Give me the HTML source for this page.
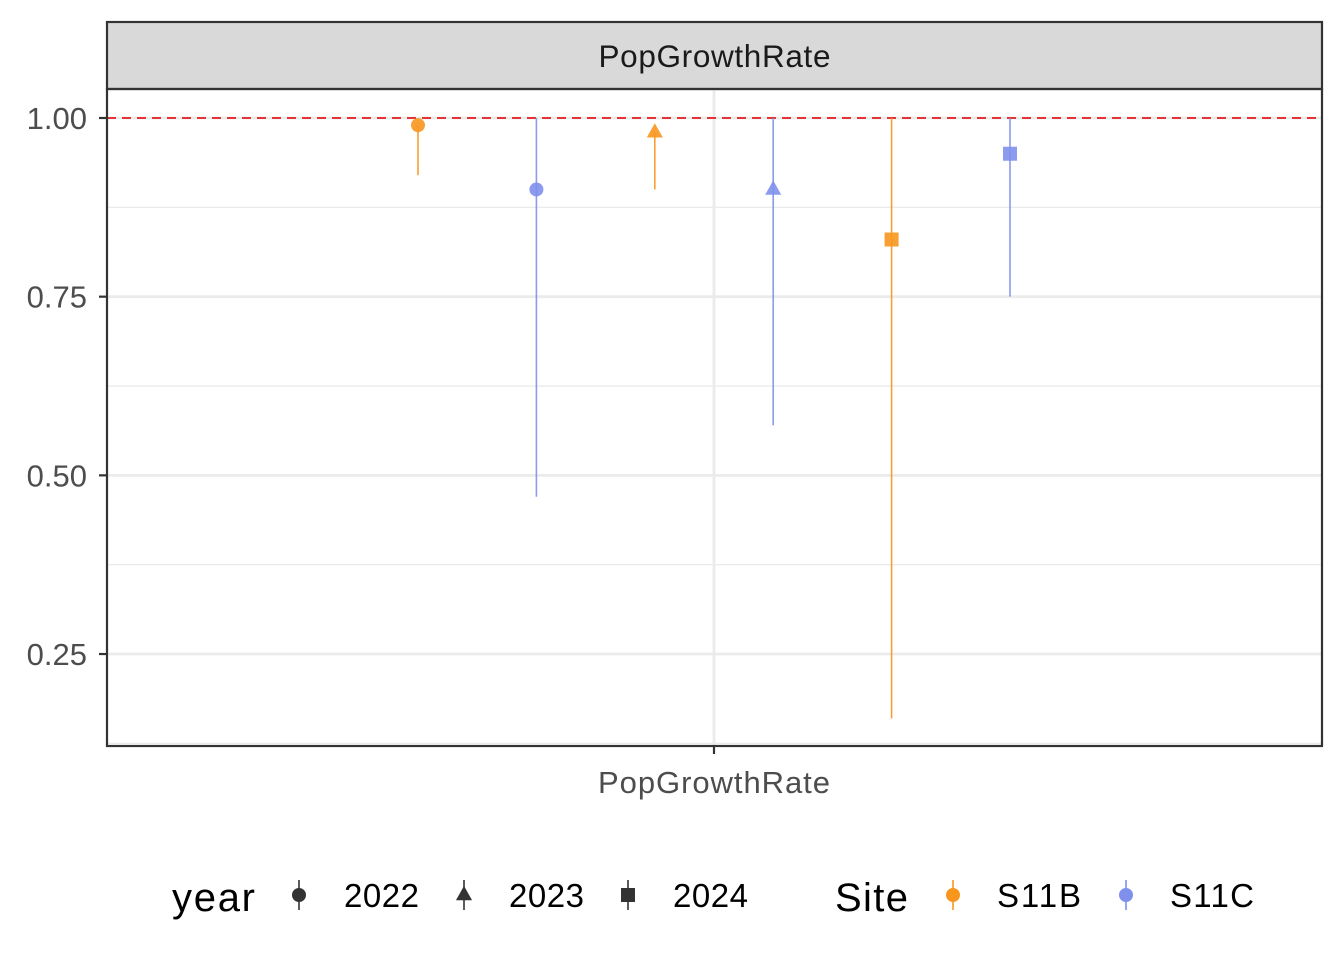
<!DOCTYPE html>
<html><head><meta charset="utf-8"><style>
body{margin:0;background:#fff}
svg text{font-family:"Liberation Sans",Arial,sans-serif}
</style></head><body>
<svg width="1344" height="960" xmlns="http://www.w3.org/2000/svg">
<rect width="1344" height="960" fill="#fff"/>
<g id="plot"></g>
</svg>
<script>
const years=["2022","2022","2023","2023","2024","2024"];
const sites=["S11B","S11C","S11B","S11C","S11B","S11C"];
const est=[0.99,0.90,0.98,0.90,0.83,0.95];
const lower=[0.92,0.47,0.90,0.57,0.16,0.75];
const upper=[0.99,1.00,0.98,1.00,1.00,1.00];
const yTicks=[0.25,0.50,0.75,1.00];
const yTickLabels=["0.25","0.50","0.75","1.00"];
const refLine=1.0;

const NS="http://www.w3.org/2000/svg";
const g=document.getElementById('plot');
const L=107,R=1322,T=89,B=746;
const y=v=>118+(1-v)*714.7;
const xPos=i=>418+i*118.4;
const colors={S11B:"#F8961E",S11C:"#7F90EC"};
function mk(t,a,p){const e=document.createElementNS(NS,t);for(const k in a)e.setAttribute(k,a[k]);(p||g).appendChild(e);return e;}
let s=mk('rect',{x:L,y:22,width:R-L,height:T-22,fill:"#d9d9d9",stroke:"#333","stroke-width":2.2});

let st=mk('text',{x:(L+R)/2,y:67,"text-anchor":"middle","font-size":31.5,fill:"#1a1a1a",textLength:232});st.textContent="PopGrowthRate";

for(let i=0;i<yTicks.length;i++){
  const v=yTicks[i];
  let gl=mk('line',{x1:L,x2:R,y1:y(v),y2:y(v),stroke:"#ebebeb","stroke-width":2.8});
  
  if(i<yTicks.length-1){const m=(v+yTicks[i+1])/2;mk('line',{x1:L,x2:R,y1:y(m),y2:y(m),stroke:"#ebebeb","stroke-width":1.4});}
  mk('line',{x1:L-8,x2:L,y1:y(v),y2:y(v),stroke:"#333","stroke-width":2.2});
  let tl=mk('text',{x:L-20,y:y(v)+11,"text-anchor":"end","font-size":31,fill:"#4d4d4d"});tl.textContent=yTickLabels[i];
  
}
{mk('line',{x1:L,x2:R,y1:y(0.125),y2:y(0.125),stroke:"#ebebeb","stroke-width":1.4});}
mk('line',{x1:714,x2:714,y1:T,y2:B,stroke:"#ebebeb","stroke-width":2.8});
let rl=mk('line',{x1:L,x2:R,y1:y(refLine),y2:y(refLine),stroke:"#e41a1c","stroke-width":1.8,"stroke-dasharray":"9,6"});

function shape(yr,cx,cy,col,sz,parent){
  let e;
  if(yr==="2022")e=mk('circle',{cx:cx,cy:cy,r:sz,fill:col},parent);
  else if(yr==="2023")e=mk('polygon',{points:`${cx},${cy-sz*1.3} ${cx-sz*1.15},${cy+sz*0.75} ${cx+sz*1.15},${cy+sz*0.75}`,fill:col},parent);
  else e=mk('rect',{x:cx-sz,y:cy-sz,width:2*sz,height:2*sz,fill:col},parent);
  return e;
}
for(let i=0;i<est.length;i++){
  const c=colors[sites[i]],x=xPos(i);
  let ln=mk('line',{x1:x,x2:x,y1:y(upper[i]),y2:y(lower[i]),stroke:c,"stroke-width":1.6,opacity:0.9});
  
  let p=shape(years[i],x,y(est[i]),c,7,g);p.setAttribute('opacity',0.9);
  
}
mk('rect',{x:L,y:T,width:R-L,height:B-T,fill:"none",stroke:"#333","stroke-width":2.2});
mk('line',{x1:714,x2:714,y1:B,y2:B+8,stroke:"#333","stroke-width":2.2});
let xl=mk('text',{x:714,y:793,"text-anchor":"middle","font-size":31,fill:"#4d4d4d",textLength:232});xl.textContent="PopGrowthRate";

let lg=mk('g',{});
let t1=mk('text',{x:172,y:911,"font-size":40,fill:"#000",textLength:83});t1.textContent="year";
const ly=["2022","2023","2024"],lx=[299,464,628];
for(let i=0;i<3;i++){
  mk('line',{x1:lx[i],x2:lx[i],y1:880,y2:910,stroke:"#333","stroke-width":1.6},lg);
  shape(ly[i],lx[i],895,"#333",7,lg);
  let t=mk('text',{x:lx[i]+45,y:907,"font-size":33,fill:"#000",textLength:75},lg);t.textContent=ly[i];
  
}
let t2=mk('text',{x:835,y:911,"font-size":40,fill:"#000",textLength:73},lg);t2.textContent="Site";
const ls=["S11B","S11C"],lsx=[953,1126];
for(let i=0;i<2;i++){
  mk('line',{x1:lsx[i],x2:lsx[i],y1:880,y2:910,stroke:colors[ls[i]],"stroke-width":1.6},lg);
  mk('circle',{cx:lsx[i],cy:895,r:7,fill:colors[ls[i]]},lg);
  let t=mk('text',{x:lsx[i]+44,y:907,"font-size":33,fill:"#000",textLength:84},lg);t.textContent=ls[i];
  
}
</script>
</body></html>
